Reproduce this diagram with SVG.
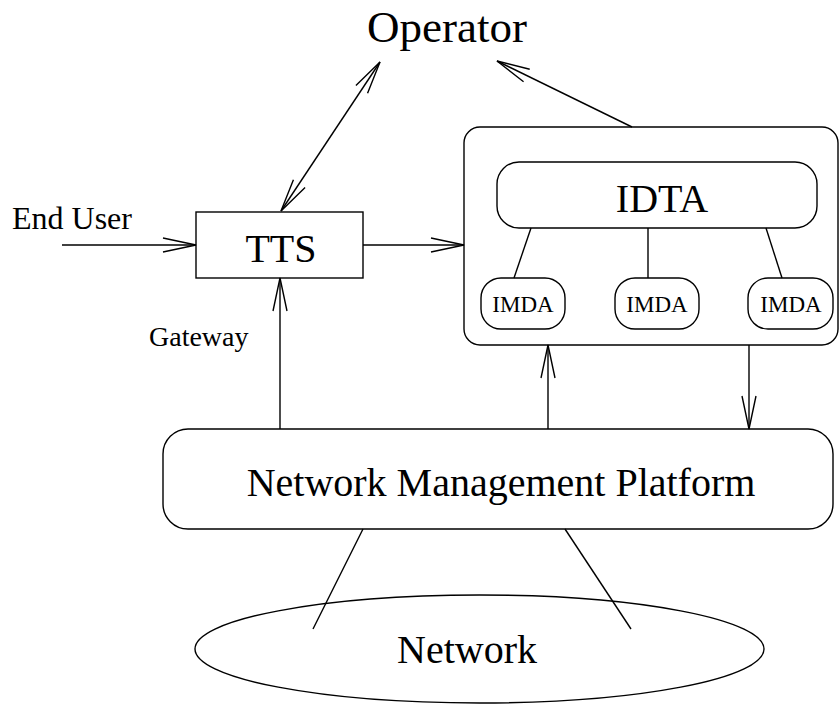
<svg xmlns="http://www.w3.org/2000/svg" width="840" height="708" viewBox="0 0 840 708">
  <style>
    .box { fill: none; stroke: #000; stroke-width: 1.4; }
    .wire { fill: none; stroke: #000; stroke-width: 1.4; }
    .arr { marker-end: url(#head); }
    text { font-family: "Liberation Serif", "Times New Roman", serif; fill: #000; }
    .mid { text-anchor: middle; }
  </style>
  <defs>
    <marker id="head" viewBox="0 0 36 16" refX="34" refY="8" markerWidth="36" markerHeight="16" markerUnits="userSpaceOnUse" orient="auto-start-reverse">
      <path d="M1,1 L34,8 L1,15" fill="none" stroke="#000" stroke-width="1.4"/>
    </marker>
  </defs>
  <rect width="840" height="708" fill="#fff"/>

  <!-- connectors -->
  <g id="connectors">
    <line class="wire arr" x1="62" y1="245" x2="196" y2="245"/>
    <line class="wire arr" x1="363" y1="245" x2="464" y2="245"/>
    <line class="wire arr" x1="280" y1="429" x2="280" y2="278"/>
    <line class="wire arr" x1="281" y1="211" x2="380" y2="62" marker-start="url(#head)"/>
    <line class="wire arr" x1="632" y1="127" x2="497" y2="61"/>
    <line class="wire arr" x1="548" y1="429" x2="548" y2="345"/>
    <line class="wire arr" x1="749" y1="345" x2="749" y2="429"/>
    <line class="wire" x1="531" y1="228" x2="514" y2="278"/>
    <line class="wire" x1="648" y1="228" x2="648" y2="278"/>
    <line class="wire" x1="766" y1="228" x2="782" y2="278"/>
    <line class="wire" x1="363" y1="529" x2="313" y2="629"/>
    <line class="wire" x1="565" y1="529" x2="631" y2="629"/>
  </g>

  <g id="operator">
    <text class="mid" x="447" y="42" font-size="45">Operator</text>
  </g>

  <g id="end-user">
    <text x="12" y="229" font-size="32">End User</text>
  </g>

  <g id="gateway">
    <text x="149" y="346" font-size="28">Gateway</text>
  </g>

  <g id="tts">
    <rect class="box" x="196" y="212" width="167" height="66"/>
    <text class="mid" x="281" y="262" font-size="40">TTS</text>
  </g>

  <g id="agent-host">
    <rect class="box" x="464" y="127" width="374" height="218" rx="16" ry="16"/>
  </g>

  <g id="idta">
    <rect class="box" x="497" y="162" width="320" height="66" rx="22" ry="22"/>
    <text class="mid" x="662" y="212" font-size="40">IDTA</text>
  </g>

  <g id="imda-1">
    <rect class="box" x="481" y="278" width="84" height="51" rx="20" ry="20"/>
    <text class="mid" x="523" y="312" font-size="23">IMDA</text>
  </g>
  <g id="imda-2">
    <rect class="box" x="615" y="278" width="84" height="51" rx="20" ry="20"/>
    <text class="mid" x="657" y="312" font-size="23">IMDA</text>
  </g>
  <g id="imda-3">
    <rect class="box" x="748" y="278" width="85" height="51" rx="20" ry="20"/>
    <text class="mid" x="791" y="312" font-size="23">IMDA</text>
  </g>

  <g id="nmp">
    <rect class="box" x="163" y="429" width="670" height="100" rx="25" ry="25"/>
    <text class="mid" x="501" y="496" font-size="40">Network Management Platform</text>
  </g>

  <g id="network">
    <ellipse class="box" cx="479.5" cy="649" rx="284.5" ry="54"/>
    <text class="mid" x="467" y="663" font-size="40">Network</text>
  </g>
</svg>
